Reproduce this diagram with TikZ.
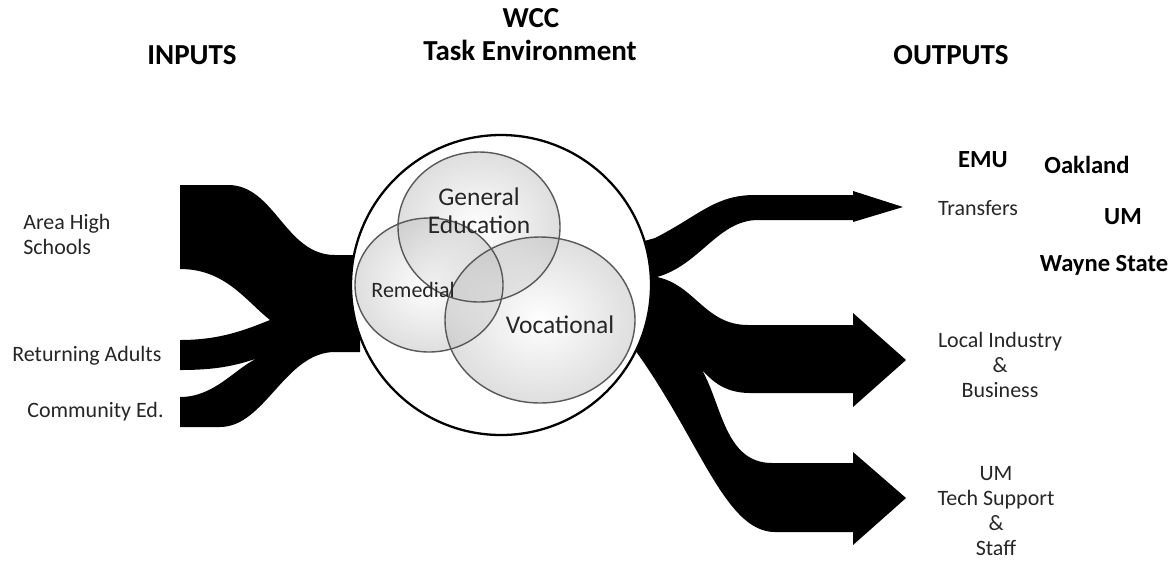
\documentclass[tikz,border=0pt]{standalone}
\usepackage{fontspec}
\setmainfont{Carlito}
\usetikzlibrary{positioning}

\tikzset{
  band/.style={fill=black},
  bubble/.style={inner color=white,outer color=gray!50,fill opacity=0.5},
  rim/.style={draw=black!65,line width=0.8pt},
  headtext/.style={font=\fontsize{16.5}{20}\selectfont\bfseries,inner sep=0pt},
  nametext/.style={font=\fontsize{14}{17}\selectfont\bfseries,inner sep=0pt},
  smalltext/.style={font=\fontsize{12.5}{14.2}\selectfont,align=center,inner sep=0pt,text=black!85},
  bubbletext/.style={font=\fontsize{14.5}{16}\selectfont,align=center,inner sep=0pt,text=black!85}
}

\begin{document}
\begin{tikzpicture}[x=0.02cm,y=-0.02cm]
\useasboundingbox (0,0) rectangle (1175,562);
\fill[band] (180,185) -- (228,185) .. controls (275,185) and (285,255) .. (335,255) -- (360,255) -- (360,352) -- (335,352) .. controls (285,352) and (265,427) .. (220,427) -- (180,427) -- (180,397) .. controls (215,397) and (235,368) .. (258,358) .. controls (235,366) and (215,370) .. (180,370) -- (180,340) .. controls (220,340) and (245,330) .. (270,320) .. controls (245,300) and (225,269) .. (180,269) -- cycle;
\fill[band] (630,245) -- (655,238) .. controls (700,215) and (715,195) .. (755,195) -- (853,195) -- (853,191) -- (903,207) -- (853,222) -- (853,220) -- (758,220) .. controls (718,220) and (700,265) .. (657,277) .. controls (695,285) and (705,325) .. (748,325) -- (853,325) -- (853,313) -- (906,360) -- (853,407) -- (853,393) -- (750,393) .. controls (722,393) and (710,378) .. (702,370) .. controls (722,405) and (725,463) .. (772,463) -- (853,463) -- (853,452) -- (906,498) -- (853,545) -- (853,532) -- (775,532) .. controls (725,532) and (700,440) .. (635,350) -- cycle;
\draw[fill=white,line width=1.3pt] (501,285) circle [radius=150];
\shade[bubble] (479,227) ellipse [x radius=81,y radius=75];
\shade[bubble] (429,285) ellipse [x radius=74,y radius=67];
\shade[bubble] (540,320) ellipse [x radius=95,y radius=83];
\draw[rim] (479,227) ellipse [x radius=81,y radius=75];
\draw[rim] (429,285) ellipse [x radius=74,y radius=67];
\draw[rim] (540,320) ellipse [x radius=95,y radius=83];
\node[bubbletext] (general) at (479,211) {General\\Education};
\node[smalltext] (remedial) at (413,290) {Remedial};
\node[bubbletext] (vocational) at (560,325) {Vocational};
\node[headtext] (wcc) at (531,18) {WCC};
\node[headtext] (task) at (530,50) {Task Environment};
\node[headtext] (inputs) at (192,55) {INPUTS};
\node[headtext] (outputs) at (951,55) {OUTPUTS};
\node[smalltext,align=left,anchor=west] (high) at (23,234) {Area High\\Schools};
\node[smalltext,anchor=west] (adults) at (12,356) {Returning Adults};
\node[smalltext,anchor=west] (community) at (27,412) {Community Ed.};
\node[smalltext] (transfers) at (978,208) {Transfers};
\node[nametext] (emu) at (983,160) {EMU};
\node[nametext] (oakland) at (1087,165) {Oakland};
\node[nametext] (um) at (1123,217) {UM};
\node[nametext] (wayne) at (1104,265) {Wayne State};
\node[smalltext] (industry) at (1000,365) {Local Industry\\\&\\Business};
\node[smalltext] (tech) at (996,511) {UM\\Tech Support\\\&\\Staff};
\end{tikzpicture}
\end{document}
